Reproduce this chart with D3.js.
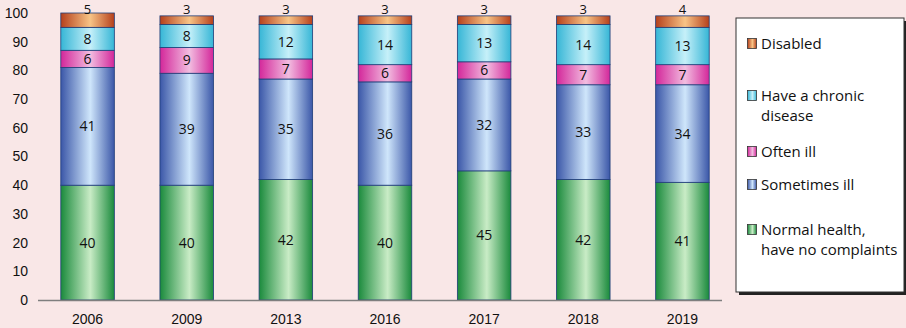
<!DOCTYPE html>
<html>
<head>
<meta charset="utf-8">
<script src="https://cdn.jsdelivr.net/npm/d3@7"></script>
<style>
  body { margin: 0; background: #f9e7e7; }
  svg { display: block; font-family: "Open Sans", "Noto Sans", sans-serif; }
</style>
</head>
<body>
<div class="chart"></div>
<script>
// data
var years = ["2006", "2009", "2013", "2016", "2017", "2018", "2019"];
var normalHealth = [40, 40, 42, 40, 45, 42, 41];
var sometimesIll = [41, 39, 35, 36, 32, 33, 34];
var oftenIll = [6, 9, 7, 6, 6, 7, 7];
var chronicDisease = [8, 8, 12, 14, 13, 14, 13];
var disabled = [5, 3, 3, 3, 3, 3, 4];
var yTicks = [0, 10, 20, 30, 40, 50, 60, 70, 80, 90, 100];

var seriesNames = ["Normal health", "Sometimes ill", "Often ill", "Have a chronic disease", "Disabled"];
var seriesValues = [normalHealth, sometimesIll, oftenIll, chronicDisease, disabled];
// edge colour, centre colour of each bar gradient
var seriesColors = [
  ["#1a8a3c", "#c9ecc6"],
  ["#3b57a8", "#cfe6fb"],
  ["#d3279a", "#f2bde0"],
  ["#36b6d6", "#c6f0f9"],
  ["#b5401c", "#f8c486"]
];
var legendLines = [
  ["Disabled"],
  ["Have a chronic", "disease"],
  ["Often ill"],
  ["Sometimes ill"],
  ["Normal health,", "have no complaints"]
];
var legendSeries = [4, 3, 2, 1, 0];

var svgWidth = 906;
var svgHeight = 328;
var margin = { top: 13, right: 174, bottom: 28, left: 38 };
var width = svgWidth - margin.left - margin.right;
var height = svgHeight - margin.top - margin.bottom;

var svg = d3.select(".chart")
  .append("svg")
  .attr("width", svgWidth)
  .attr("height", svgHeight);

svg.append("rect")
  .attr("width", svgWidth)
  .attr("height", svgHeight)
  .attr("fill", "#f9e7e7");

var defs = svg.append("defs");
seriesColors.forEach(function(c, i) {
  var g = defs.append("linearGradient")
    .attr("id", "grad" + i)
    .attr("x1", "0%").attr("x2", "100%")
    .attr("y1", "0%").attr("y2", "0%");
  g.append("stop").attr("offset", "0%").attr("stop-color", c[0]);
  g.append("stop").attr("offset", "55%").attr("stop-color", c[1]);
  g.append("stop").attr("offset", "100%").attr("stop-color", c[0]);
});

var chartGroup = svg.append("g")
  .attr("transform", `translate(${margin.left}, ${margin.top})`);

var xScale = d3.scaleBand()
  .domain(years)
  .range([0, width])
  .paddingInner(0.46)
  .paddingOuter(0.23);

var yScale = d3.scaleLinear()
  .domain([0, 100])
  .range([height, 0]);

// stacked data
var table = years.map(function(y, i) {
  var row = { year: y };
  seriesNames.forEach(function(n, s) { row[n] = seriesValues[s][i]; });
  return row;
});
var stacked = d3.stack().keys(seriesNames)(table);

// y axis labels
var leftAxis = d3.axisLeft(yScale).tickValues(yTicks).tickSize(0).tickPadding(10);
var yAxis = chartGroup.append("g").call(leftAxis);
yAxis.select(".domain").remove();
yAxis.selectAll("text")
  .style("font-size", "14px")
  .attr("fill", "#111");

// bars
var layers = chartGroup.selectAll(".layer")
  .data(stacked)
  .enter()
  .append("g")
  .attr("class", "layer")
  .attr("fill", (d, i) => `url(#grad${i})`);

layers.selectAll("rect")
  .data(d => d)
  .enter()
  .append("rect")
  .attr("x", d => xScale(d.data.year))
  .attr("width", xScale.bandwidth())
  .attr("y", d => yScale(d[1]))
  .attr("height", d => yScale(d[0]) - yScale(d[1]))
  .attr("stroke", "#1f3d78")
  .attr("stroke-width", 0.8);

// value labels (top ones sit above the bar, kept inside the picture)
stacked.forEach(function(layer, s) {
  chartGroup.selectAll(".lbl" + s)
    .data(layer)
    .enter()
    .append("text")
    .attr("x", d => xScale(d.data.year) + xScale.bandwidth() / 2)
    .attr("y", function(d) {
      if (s === 4) return Math.max(yScale(d[1]) - 2, 1);
      return yScale((d[0] + d[1]) / 2) + 5;
    })
    .attr("text-anchor", "middle")
    .style("font-size", s === 4 ? "13px" : "14px")
    .attr("fill", "#111")
    .text(d => d[1] - d[0]);
});

// baseline
chartGroup.append("line")
  .attr("x1", 0)
  .attr("x2", width - 10)
  .attr("y1", height + 0.5)
  .attr("y2", height + 0.5)
  .attr("stroke", "#7f7f7f")
  .attr("stroke-width", 1.5);

// x axis labels
var bottomAxis = d3.axisBottom(xScale).tickSize(0).tickPadding(14);
var xAxis = chartGroup.append("g")
  .attr("transform", `translate(0, ${height})`)
  .call(bottomAxis);
xAxis.select(".domain").remove();
xAxis.selectAll("text")
  .style("font-size", "14px")
  .attr("fill", "#111");

// legend
var legend = svg.append("g").attr("transform", "translate(736, 18)");
legend.append("rect")
  .attr("x", 3).attr("y", 3)
  .attr("width", 169).attr("height", 274)
  .attr("fill", "#222");
legend.append("rect")
  .attr("width", 168).attr("height", 274)
  .attr("fill", "#fff")
  .attr("stroke", "#333")
  .attr("stroke-width", 1);

var legendY = [26, 78, 134, 167, 212];
legendLines.forEach(function(lines, i) {
  var s = legendSeries[i];
  var item = legend.append("g").attr("transform", `translate(11, ${legendY[i]})`);
  item.append("rect")
    .attr("x", 0.5).attr("y", -5.5)
    .attr("width", 9).attr("height", 10)
    .attr("fill", `url(#grad${s})`)
    .attr("stroke", "#333")
    .attr("stroke-width", 0.8);
  lines.forEach(function(t, k) {
    item.append("text")
      .attr("x", 14)
      .attr("y", 5 + k * 20)
      .style("font-size", "15px")
      .attr("fill", "#111")
      .text(t);
  });
});
</script>
</body>
</html>
